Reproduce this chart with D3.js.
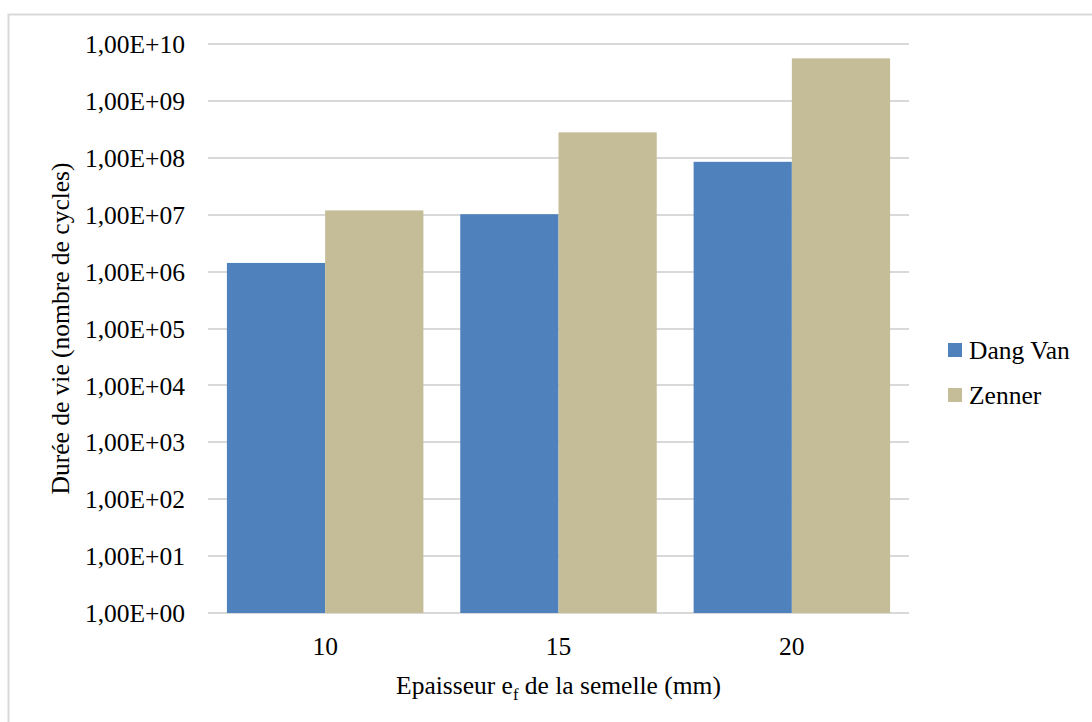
<!DOCTYPE html>
<html>
<head>
<meta charset="utf-8">
<script src="https://cdn.jsdelivr.net/npm/d3@7"></script>
<style>
  html, body { margin: 0; padding: 0; background: #fff; }
  svg { display: block; }
  svg text { font-family: "Liberation Serif", Tinos, "Times New Roman", Times, "DejaVu Serif", serif !important; fill: #000; }
</style>
</head>
<body>
<svg id="chart" width="1092" height="722"></svg>
<script>
const categories = ["10", "15", "20"];
const seriesNames = ["Dang Van", "Zenner"];
const dangVan = [1.42e6, 1.02e7, 8.5e7];
const zenner = [1.19e7, 2.8e8, 5.6e9];
const seriesColors = ["#4f81bd", "#c4bd97"];
const yTicks = [1e0, 1e1, 1e2, 1e3, 1e4, 1e5, 1e6, 1e7, 1e8, 1e9, 1e10];
const yTitle = "Durée de vie (nombre de cycles)";

const svg = d3.select("#chart");
const W = 1092, H = 722;
const plot = { left: 208, right: 909, top: 44, bottom: 613 };
const fs = 25.5;

// outer frame
svg.append("rect")
  .attr("x", 8.5).attr("y", 14.5).attr("width", W + 20).attr("height", H + 20)
  .attr("fill", "#fff").attr("stroke", "#d9d9d9").attr("stroke-width", 2);

const x = d3.scaleBand().domain(categories)
  .range([plot.left, plot.right]).paddingInner(0.158).paddingOuter(0.081);
const xs = d3.scaleBand().domain(seriesNames).range([0, x.bandwidth()]);
const y = d3.scaleLog().domain([1, 1e10]).range([plot.bottom, plot.top]);

// gridlines
svg.append("g").selectAll("line").data(yTicks).join("line")
  .attr("x1", plot.left).attr("x2", plot.right)
  .attr("y1", d => Math.round(y(d))).attr("y2", d => Math.round(y(d)))
  .attr("stroke", "#d9d9d9").attr("stroke-width", 2);

// bars
const series = [dangVan, zenner];
series.forEach((vals, si) => {
  svg.append("g").selectAll("rect").data(vals).join("rect")
    .attr("x", (d, i) => x(categories[i]) + xs(seriesNames[si]))
    .attr("width", xs.bandwidth())
    .attr("y", d => y(d))
    .attr("height", d => y(1) - y(d))
    .attr("fill", seriesColors[si]);
});

// y axis labels
const fmt = d => {
  const e = Math.round(Math.log10(d));
  return "1,00E+" + (e < 10 ? "0" + e : e);
};
const yAxis = d3.axisLeft(y).tickValues(yTicks).tickFormat(fmt).tickSize(0).tickPadding(0);
const gy = svg.append("g").attr("transform", `translate(${185},0)`).call(yAxis);
gy.attr("font-family", null);
gy.select(".domain").remove();
gy.selectAll("text").attr("font-size", fs).attr("fill", "#000").attr("dy", "0.34em");

// x axis labels
const xAxis = d3.axisBottom(x).tickSize(0).tickPadding(0);
const gx = svg.append("g").attr("transform", `translate(0,${plot.bottom})`).call(xAxis);
gx.attr("font-family", null);
gx.select(".domain").remove();
gx.selectAll("text").attr("font-size", fs).attr("fill", "#000").attr("dy", null).attr("y", 42);

// axis titles
svg.append("text")
  .attr("transform", `translate(60,${(plot.top + plot.bottom) / 2}) rotate(-90)`)
  .attr("text-anchor", "middle").attr("dy", "0.34em").attr("font-size", fs)
  .text(yTitle);

const xt = svg.append("text")
  .attr("x", (plot.left + plot.right) / 2).attr("y", 694)
  .attr("text-anchor", "middle").attr("font-size", fs);
xt.append("tspan").text("Epaisseur e");
xt.append("tspan").attr("font-size", fs * 0.65).attr("dy", 6).text("f");
xt.append("tspan").attr("dy", -6).text(" de la semelle (mm)");

// legend
const legendY = [350, 395];
const lg = svg.append("g");
seriesNames.forEach((n, i) => {
  lg.append("rect").attr("x", 948).attr("y", legendY[i] - 7).attr("width", 14).attr("height", 14)
    .attr("fill", seriesColors[i]);
  lg.append("text").attr("x", 969).attr("y", legendY[i]).attr("dy", "0.34em")
    .attr("font-size", fs).text(n);
});
</script>
</body>
</html>
